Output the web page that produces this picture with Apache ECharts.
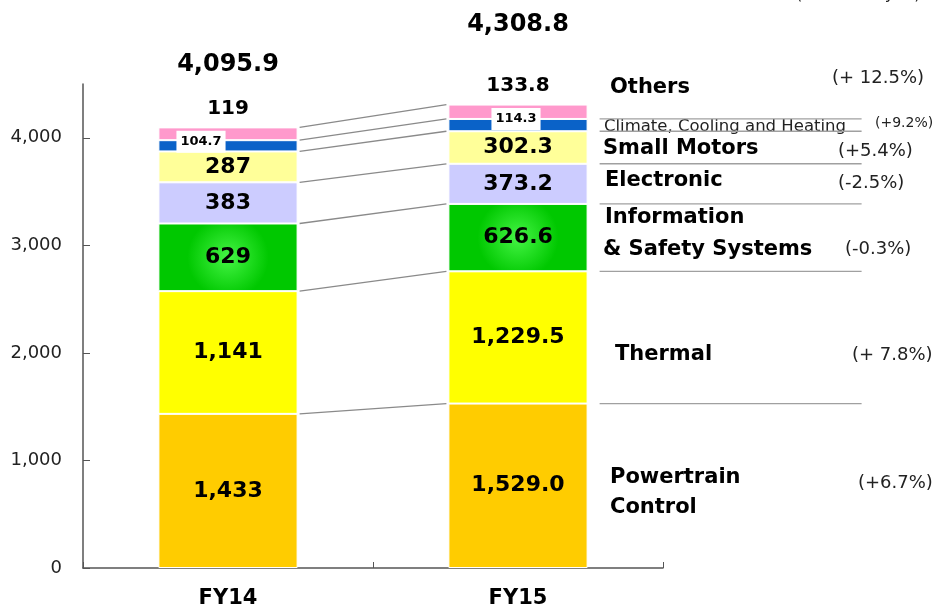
<!DOCTYPE html>
<html>
<head>
<meta charset="utf-8">
<script src="https://cdn.jsdelivr.net/npm/echarts@6/dist/echarts.min.js"></script>
<style>
  html, body { margin: 0; padding: 0; background: #fff; }
  #chart { width: 940px; height: 615px; }
</style>
</head>
<body>
<div id="chart"></div>
<script>
// Fiscal years on the x axis
const years = ['FY14', 'FY15'];

// Segment names, bottom of the stack first
const segments = ['Powertrain Control', 'Thermal', 'Information & Safety Systems',
  'Electronic', 'Small Motors', 'Climate, Cooling and Heating', 'Others'];

// Revenue per segment (billions of yen)
const powertrain = [1433, 1529.0];
const thermal = [1141, 1229.5];
const infoSafety = [629, 626.6];
const electronic = [383, 373.2];
const smallMotors = [287, 302.3];
const climate = [104.7, 114.3];
const others = [119, 133.8];

// Stated totals
const totals = [4095.9, 4308.8];

// Year-on-year change per segment
const changes = ['(+6.7%)', '(+ 7.8%)', '(-0.3%)', '(-2.5%)', '(+5.4%)', '(+9.2%)', '(+ 12.5%)'];

// Value-axis ticks
const yTicks = [0, 1000, 2000, 3000, 4000];

const FONT = '"DejaVu Sans", "Liberation Sans", sans-serif';
const stackValues = [powertrain, thermal, infoSafety, electronic, smallMotors, climate, others];

// Cumulative boundaries of each segment top, per year
const bounds = [[], []];
[0, 1].forEach(function (y) {
  let s = 0;
  stackValues.forEach(function (arr) { s += arr[y]; bounds[y].push(s); });
});

const segColors = [
  '#FFCC00',
  '#FFFF00',
  { type: 'radial', x: 0.5, y: 0.5, r: 0.6,
    colorStops: [{ offset: 0, color: '#45f445' }, { offset: 1, color: '#00c800' }] },
  '#CCCCFF',
  '#FFFF99',
  '#0A62C8',
  '#FF99CC'
];

function fmt(v) { return v.toLocaleString('en-US'); }
function fmt1(v) { return v.toLocaleString('en-US', { minimumFractionDigits: 1, maximumFractionDigits: 1 }); }

const barSeries = stackValues.map(function (arr, i) {
  const s = {
    name: segments[i],
    type: 'bar',
    stack: 'total',
    barWidth: '48%',
    data: arr.slice(),
    itemStyle: { color: segColors[i], borderColor: '#fff', borderWidth: 1 },
    label: {
      show: true, position: 'inside', color: '#000', fontFamily: FONT,
      fontWeight: 'bold', fontSize: 22,
      // FY14 shows whole numbers, FY15 one decimal
      formatter: function (p) { return p.dataIndex === 0 ? fmt(p.value) : fmt1(p.value); }
    }
  };
  if (i === 5) {
    // Small segment: value in a white tag
    s.data = arr.map(function (v, k) {
      return { value: v, label: { offset: k === 0 ? [-27, -4] : [-2, -6] } };
    });
    s.label = {
      show: true, position: 'inside', color: '#000', fontFamily: FONT,
      fontWeight: 'bold', fontSize: 13, backgroundColor: '#fff',
      padding: [5, 4, 4, 4],
      formatter: function (p) { return fmt1(p.value); }
    };
  }
  if (i === 6) {
    s.label = {
      show: true, position: 'top', distance: 9, color: '#000', fontFamily: FONT,
      fontWeight: 'bold', fontSize: 20,
      formatter: function (p) { return String(p.value); }
    };
  }
  return s;
});

// Grey connectors between matching segment tops of the two bars
const connectorSeries = {
  type: 'custom',
  silent: true,
  z: 1,
  data: bounds[0].map(function (b) { return [0, b]; }),
  renderItem: function (params, api) {
    const k = params.dataIndex;
    const half = api.size([1, 0])[0] * 0.24;
    const p0 = api.coord([0, bounds[0][k]]);
    const p1 = api.coord([1, bounds[1][k]]);
    return {
      type: 'line',
      shape: { x1: p0[0] + half + 2, y1: p0[1], x2: p1[0] - half - 2, y2: p1[1] },
      style: { stroke: '#8a8a8a', lineWidth: 1.3 }
    };
  }
};

// Separator rules beside the FY15 bar
const ruleSeries = {
  type: 'custom',
  silent: true,
  z: 1,
  data: bounds[1].slice(0, 6).map(function (b) { return [1, b]; }),
  renderItem: function (params, api) {
    const k = params.dataIndex;
    const half = api.size([1, 0])[0] * 0.24;
    const p = api.coord([1, bounds[1][k]]);
    return {
      type: 'line',
      shape: { x1: p[0] + half + 12, y1: p[1], x2: p[0] + half + 274, y2: p[1] },
      style: { stroke: '#a0a0a0', lineWidth: 1.3 }
    };
  }
};

// Totals printed above each bar
const totalSeries = {
  type: 'scatter',
  symbolSize: 0,
  silent: true,
  itemStyle: { opacity: 1 },
  data: totals.map(function (t, k) {
    return { value: t, label: { distance: k === 0 ? 51 : 68 } };
  }),
  label: {
    show: true, position: 'top', color: '#000', fontFamily: FONT,
    fontWeight: 'bold', fontSize: 24,
    formatter: function (p) { return fmt1(p.value); }
  }
};

// Segment names and changes on the right
const nameStyle = { fill: '#000', font: 'bold 21px ' + FONT };
const pctStyle = { fill: '#222', font: '18px ' + FONT };
function txt(x, y, text, style) {
  return {
    type: 'text', x: x, y: y,
    style: Object.assign({ text: text, verticalAlign: 'middle', textVerticalAlign: 'middle' }, style)
  };
}

const graphics = [
  txt(796, -5, '(Billions of yen)', { fill: '#222', font: '16px ' + FONT }),
  txt(610, 88, 'Others', nameStyle),
  txt(832, 78, changes[6], pctStyle),
  txt(604, 127, segments[5], { fill: '#222', font: '16.5px ' + FONT }),
  txt(875, 123, changes[5], { fill: '#222', font: '14px ' + FONT }),
  txt(603, 149, segments[4], nameStyle),
  txt(838, 151, changes[4], pctStyle),
  txt(605, 181, segments[3], nameStyle),
  txt(838, 183, changes[3], pctStyle),
  txt(605, 218, 'Information', nameStyle),
  txt(603, 250, '& Safety Systems', nameStyle),
  txt(845, 249, changes[2], pctStyle),
  txt(615, 355, segments[1], nameStyle),
  txt(852, 355, changes[1], pctStyle),
  txt(610, 478, 'Powertrain', nameStyle),
  txt(610, 508, 'Control', nameStyle),
  txt(858, 483, changes[0], pctStyle)
];

const chart = echarts.init(document.getElementById('chart'), null, { renderer: 'canvas' });
chart.setOption({
  animation: false,
  backgroundColor: '#fff',
  grid: { left: 83, right: 277, top: 84, bottom: 47, containLabel: false },
  xAxis: {
    type: 'category',
    data: years,
    axisLine: { lineStyle: { color: '#555', width: 1.5 } },
    axisTick: { show: true, inside: true, length: 6, lineStyle: { color: '#555' } },
    axisLabel: { margin: 20, color: '#000', fontFamily: FONT, fontWeight: 'bold', fontSize: 21 }
  },
  yAxis: {
    type: 'value',
    min: yTicks[0],
    max: 4500,
    interval: yTicks[1] - yTicks[0],
    splitLine: { show: false },
    axisLine: { show: true, lineStyle: { color: '#555', width: 1.5 } },
    axisTick: { show: true, inside: true, length: 7, lineStyle: { color: '#555' } },
    axisLabel: {
      showMaxLabel: false, margin: 21, color: '#222', fontFamily: FONT, fontSize: 18,
      formatter: function (v) { return yTicks.indexOf(v) >= 0 ? fmt(v) : ''; }
    }
  },
  graphic: graphics,
  series: barSeries.concat([connectorSeries, ruleSeries, totalSeries])
});
</script>
</body>
</html>
